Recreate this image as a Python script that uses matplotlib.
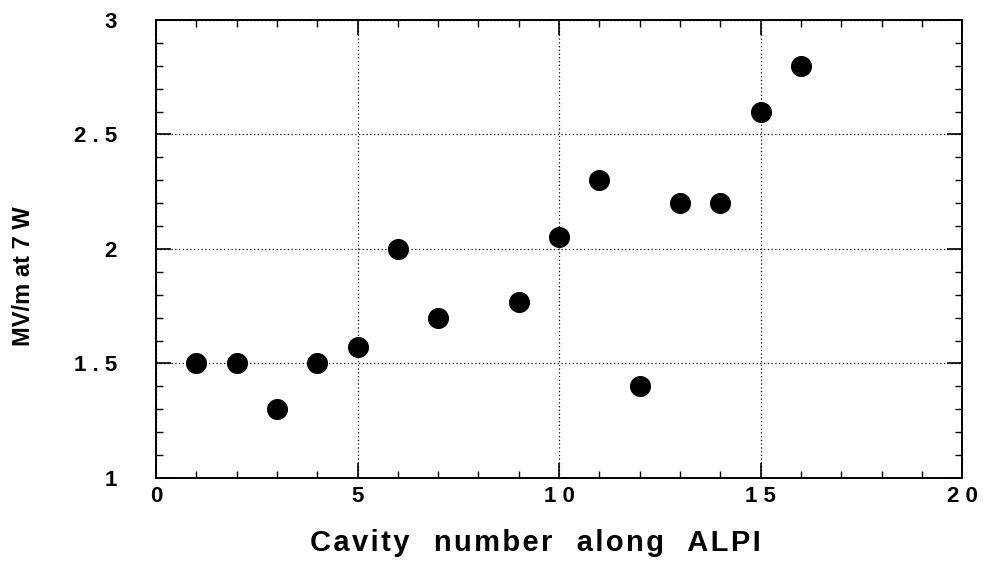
import matplotlib
matplotlib.use("Agg")
import matplotlib.pyplot as plt
from matplotlib.ticker import MultipleLocator, FixedLocator

cavity = [1, 2, 3, 4, 5, 6, 7, 9, 10, 11, 12, 13, 14, 15, 16]
field = [1.5, 1.5, 1.3, 1.5, 1.57, 2.0, 1.7, 1.77, 2.05, 2.3, 1.4, 2.2, 2.2, 2.6, 2.8]

xticks = [0, 5, 10, 15, 20]
xticklabels = ["0", "5", "1 0", "1 5", "2 0"]
yticks = [1, 1.5, 2, 2.5, 3]
yticklabels = ["1", "1 . 5", "2", "2 . 5", "3"]

xlabel = "Cavity number along ALPI"
ylabel = "MV/m at 7 W"

plt.rcParams["font.family"] = ["Liberation Sans", "DejaVu Sans"]
plt.rcParams["font.weight"] = "bold"

fig = plt.figure(figsize=(9.87, 5.69), dpi=100)
ax = fig.add_axes([0.158, 0.160, 0.817, 0.805])

ax.scatter(cavity, field, s=200, color="black", zorder=3)

ax.set_xlim(0, 20)
ax.set_ylim(1, 3)
ax.xaxis.set_major_locator(FixedLocator(xticks))
ax.yaxis.set_major_locator(FixedLocator(yticks))
ax.set_xticklabels(xticklabels, fontsize=16, fontweight="bold")
ax.set_yticklabels(yticklabels, fontsize=16, fontweight="bold")
ax.xaxis.set_minor_locator(MultipleLocator(1))
ax.yaxis.set_minor_locator(MultipleLocator(0.1))

ax.tick_params(which="both", direction="in", top=True, right=True, color="black")
ax.tick_params(which="major", length=11, width=1.2)
ax.tick_params(which="minor", length=5, width=1.0)
ax.tick_params(axis="x", which="major", pad=6)
ax.tick_params(axis="y", which="major", pad=28)

for sp in ax.spines.values():
    sp.set_linewidth(1.4)

ax.grid(True, which="major", linestyle=(0, (1, 2)), color="black", linewidth=0.9)

# slightly letter-spaced axis title, as in the original print
spaced = "   ".join("\u200a".join(w) for w in xlabel.split(" "))
ax.set_xlabel(spaced, fontsize=21, fontweight="bold")
ax.xaxis.set_label_coords(0.470, -0.112)
ax.set_ylabel(ylabel, fontsize=17, fontweight="bold")
ax.yaxis.set_label_coords(-0.150, 0.44)

plt.savefig("out.png", dpi=100)
plt.close()
